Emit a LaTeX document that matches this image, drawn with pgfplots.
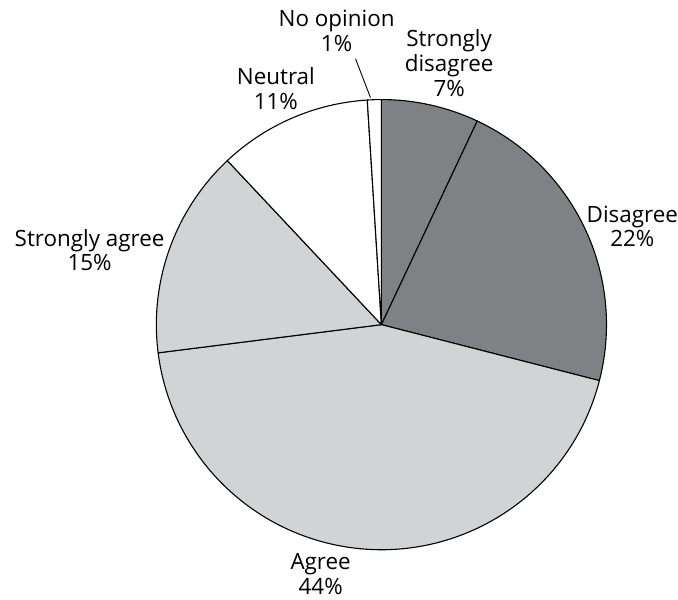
\documentclass[border=0pt]{standalone}
\usepackage{pgfplots}
\usepackage{pgfplotstable}
\pgfplotsset{compat=1.18}
\usepackage{fontspec}
\setmainfont{Open Sans}

\definecolor{pieDark}{HTML}{808185}
\definecolor{pieLight}{HTML}{D2D3D5}

% share of answers, in percent, clockwise from twelve o'clock
\pgfplotstableread{
pct  shade
7    pieDark
22   pieDark
44   pieLight
15   pieLight
11   white
1    white
}\piedata

\newcommand{\lbl}[3]{\node[anchor=base, inner sep=0pt, font=\fontsize{22.5}{25}\selectfont] at (axis cs:#1,#2) {#3};}

\begin{document}
\begin{tikzpicture}
\begin{axis}[
  x=1pt, y=1pt,
  xmin=-383, xmax=295, ymin=-276, ymax=326,
  hide axis, clip=false,
]
\path (rel axis cs:0,0) rectangle (rel axis cs:1,1);
\xdef\angleacc{90}
\pgfplotsinvokeforeach{0,...,5}{
  \pgfplotstablegetelem{#1}{pct}\of\piedata
  \let\slicepct=\pgfplotsretval
  \pgfplotstablegetelem{#1}{shade}\of\piedata
  \let\sliceshade=\pgfplotsretval
  \pgfmathsetmacro\angleend{\angleacc-3.6*\slicepct}
  \edef\doslice{\noexpand\filldraw[fill=\sliceshade, draw=black, line width=1.1pt, line join=round]
    (axis cs:0,0) -- ++(\angleacc:226pt) arc[start angle=\angleacc, end angle=\angleend, radius=226pt] -- cycle;}
  \doslice
  \xdef\angleacc{\angleend}
}
% leader line for the smallest slice
\draw[line width=0.9pt] (axis cs:-26,267) -- (axis cs:-11,228);

\lbl{-45}{299}{No opinion}
\lbl{-45}{274}{1\%}
\lbl{68}{279}{Strongly}
\lbl{68}{254}{disagree}
\lbl{68}{229}{7\%}
\lbl{252}{103}{Disagree}
\lbl{252}{78}{22\%}
\lbl{-106}{241}{Neutral}
\lbl{-106}{216}{11\%}
\lbl{-293}{78}{Strongly agree}
\lbl{-293}{54}{15\%}
\lbl{-61}{-246}{Agree}
\lbl{-61}{-271}{44\%}
\end{axis}
\end{tikzpicture}
\end{document}
